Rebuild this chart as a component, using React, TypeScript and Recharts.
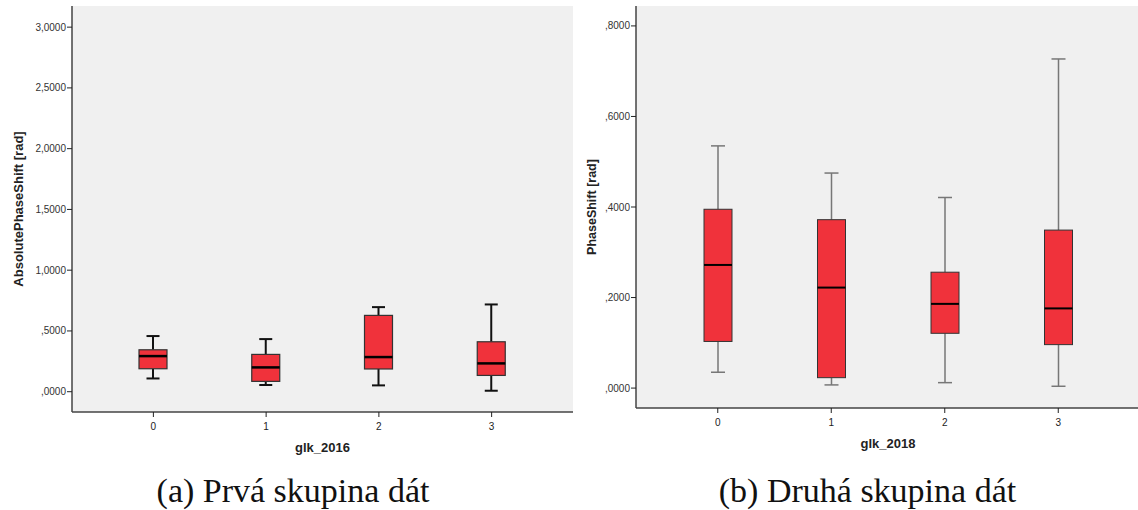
import React from 'react';
import { ComposedChart, Bar, XAxis, YAxis, CartesianGrid } from 'recharts';

const groups = ['0', '1', '2', '3'];

// glk_2016 – AbsolutePhaseShift [rad]
const lo2016 = [0.109, 0.055, 0.052, 0.008];
const q1_2016 = [0.189, 0.085, 0.187, 0.134];
const med2016 = [0.293, 0.2, 0.285, 0.233];
const q3_2016 = [0.345, 0.307, 0.628, 0.411];
const hi2016 = [0.458, 0.433, 0.696, 0.718];
const ticks2016 = [0, 0.5, 1, 1.5, 2, 2.5, 3];

// glk_2018 – PhaseShift [rad]
const lo2018 = [0.035, 0.007, 0.012, 0.004];
const q1_2018 = [0.103, 0.023, 0.121, 0.096];
const med2018 = [0.272, 0.222, 0.186, 0.176];
const q3_2018 = [0.395, 0.372, 0.256, 0.349];
const hi2018 = [0.535, 0.475, 0.421, 0.727];
const ticks2018 = [0, 0.2, 0.4, 0.6, 0.8];

const BOX_FILL = '#f0323b';
const FRAME = '#444';
const SANS = '"Liberation Sans", Arial, sans-serif';

// SPSS style: ,5000 / 3,0000
function fmt(v: number) {
  const s = v.toFixed(4).replace('.', ',');
  return s.startsWith('0,') ? s.slice(1) : s;
}

function makeRows(lo: number[], q1: number[], med: number[], q3: number[], hi: number[]) {
  return groups.map((g, i) => ({
    g,
    range: [lo[i], hi[i]],
    lo: lo[i],
    q1: q1[i],
    med: med[i],
    q3: q3[i],
    hi: hi[i],
  }));
}

const rows2016 = makeRows(lo2016, q1_2016, med2016, q3_2016, hi2016);
const rows2018 = makeRows(lo2018, q1_2018, med2018, q3_2018, hi2018);

type BoxStyle = {
  whisker: string;
  whiskerWidth: number;
  cap: number;
  boxStroke: number;
  medianWidth: number;
};

function boxShape(st: BoxStyle) {
  return (props: any) => {
    const { x, y, width, height, payload } = props;
    const top = Math.min(y, y + height);
    const bottom = Math.max(y, y + height);
    const { lo, q1, med, q3, hi } = payload;
    // position inside the bar's own (scaled) span
    const py = (v: number) => bottom - ((v - lo) / (hi - lo)) * (bottom - top);
    const cx = x + width / 2;
    const yq1 = py(q1);
    const yq3 = py(q3);
    const ym = py(med);
    return (
      <g>
        <line x1={cx} x2={cx} y1={top} y2={yq3} stroke={st.whisker} strokeWidth={st.whiskerWidth} />
        <line x1={cx} x2={cx} y1={yq1} y2={bottom} stroke={st.whisker} strokeWidth={st.whiskerWidth} />
        <line x1={cx - st.cap / 2} x2={cx + st.cap / 2} y1={top} y2={top} stroke={st.whisker} strokeWidth={st.whiskerWidth} />
        <line x1={cx - st.cap / 2} x2={cx + st.cap / 2} y1={bottom} y2={bottom} stroke={st.whisker} strokeWidth={st.whiskerWidth} />
        <rect x={x} y={yq3} width={width} height={yq1 - yq3} fill={BOX_FILL} stroke="#333" strokeWidth={st.boxStroke} />
        <line x1={x} x2={x + width} y1={ym} y2={ym} stroke="#000" strokeWidth={st.medianWidth} />
      </g>
    );
  };
}

const tickStyle = { fontSize: 10, fill: '#333', fontFamily: SANS };

export default function App() {
  return (
    <div style={{ position: 'absolute', left: 0, top: 0, width: 1138, height: 510, overflow: 'hidden', background: '#fff' }}>
      {/* (a) glk_2016 */}
      <div style={{ position: 'absolute', left: 0, top: 0 }}>
        <ComposedChart width={600} height={440} data={rows2016} margin={{ top: 6, right: 27, bottom: 0, left: 0 }}>
          <CartesianGrid fill="#f0f0f0" horizontal={false} vertical={false} />
          <XAxis
            dataKey="g"
            padding={{ left: 25, right: 25 }}
            height={28}
            tickSize={5}
            tickMargin={6}
            tick={{ ...tickStyle, fill: '#222' }}
            axisLine={{ stroke: FRAME, strokeWidth: 1.5 }}
            tickLine={{ stroke: '#222' }}
          />
          <XAxis xAxisId="top" orientation="top" dataKey="g" height={0} tick={false} tickLine={false} axisLine={{ stroke: FRAME, strokeWidth: 1.5 }} />
          <YAxis
            type="number"
            width={72}
            domain={[-0.167, 3.174]}
            allowDataOverflow
            ticks={ticks2016}
            tickFormatter={fmt}
            tickSize={5}
            tickMargin={1}
            tick={tickStyle}
            axisLine={{ stroke: FRAME, strokeWidth: 1.5 }}
            tickLine={{ stroke: '#222' }}
          />
          <YAxis yAxisId="r" orientation="right" width={0} domain={[0, 1]} tick={false} tickLine={false} axisLine={{ stroke: FRAME, strokeWidth: 1.5 }} />
          <Bar
            dataKey="range"
            barSize={28}
            isAnimationActive={false}
            shape={boxShape({ whisker: '#111', whiskerWidth: 2, cap: 13, boxStroke: 1.2, medianWidth: 2.5 })}
          />
        </ComposedChart>
      </div>

      {/* (b) glk_2018 */}
      <div style={{ position: 'absolute', left: 560, top: 0 }}>
        <ComposedChart width={580} height={436} data={rows2018} margin={{ top: 6, right: 0, bottom: 0, left: 0 }}>
          <CartesianGrid fill="#f0f0f0" horizontal={false} vertical={false} />
          <XAxis
            dataKey="g"
            padding={{ left: 25, right: 25 }}
            height={28}
            tickSize={5}
            tickMargin={6}
            tick={{ ...tickStyle, fill: '#222' }}
            axisLine={{ stroke: FRAME, strokeWidth: 1.5 }}
            tickLine={{ stroke: '#222' }}
          />
          <XAxis xAxisId="top" orientation="top" dataKey="g" height={0} tick={false} tickLine={false} axisLine={{ stroke: FRAME, strokeWidth: 1.5 }} />
          <YAxis
            type="number"
            width={76}
            domain={[-0.044, 0.844]}
            allowDataOverflow
            ticks={ticks2018}
            tickFormatter={fmt}
            tickSize={5}
            tickMargin={1}
            tick={tickStyle}
            axisLine={{ stroke: FRAME, strokeWidth: 1.5 }}
            tickLine={{ stroke: '#222' }}
          />
          <Bar
            dataKey="range"
            barSize={28}
            isAnimationActive={false}
            shape={boxShape({ whisker: '#777', whiskerWidth: 1.5, cap: 14, boxStroke: 1, medianWidth: 2 })}
          />
        </ComposedChart>
      </div>

      {/* axis titles and captions */}
      <svg width={1138} height={510} style={{ position: 'absolute', left: 0, top: 0, pointerEvents: 'none' }}>
        <g fontFamily={SANS} fontWeight="bold" fill="#222">
          <text x={23} y={209} fontSize={13} textAnchor="middle" transform="rotate(-90 23 209)">
            AbsolutePhaseShift [rad]
          </text>
          <text x={322.5} y={452} fontSize={13} textAnchor="middle">
            glk_2016
          </text>
          <text x={596} y={207} fontSize={12.5} textAnchor="middle" transform="rotate(-90 596 207)">
            PhaseShift [rad]
          </text>
          <text x={888} y={448} fontSize={13} textAnchor="middle">
            glk_2018
          </text>
        </g>
        <g fontFamily='"Liberation Serif", "Times New Roman", serif' fontSize={34} fill="#111">
          <text x={293} y={502} textAnchor="middle">
            (a) Prvá skupina dát
          </text>
          <text x={867.5} y={502} textAnchor="middle">
            (b) Druhá skupina dát
          </text>
        </g>
      </svg>
    </div>
  );
}
